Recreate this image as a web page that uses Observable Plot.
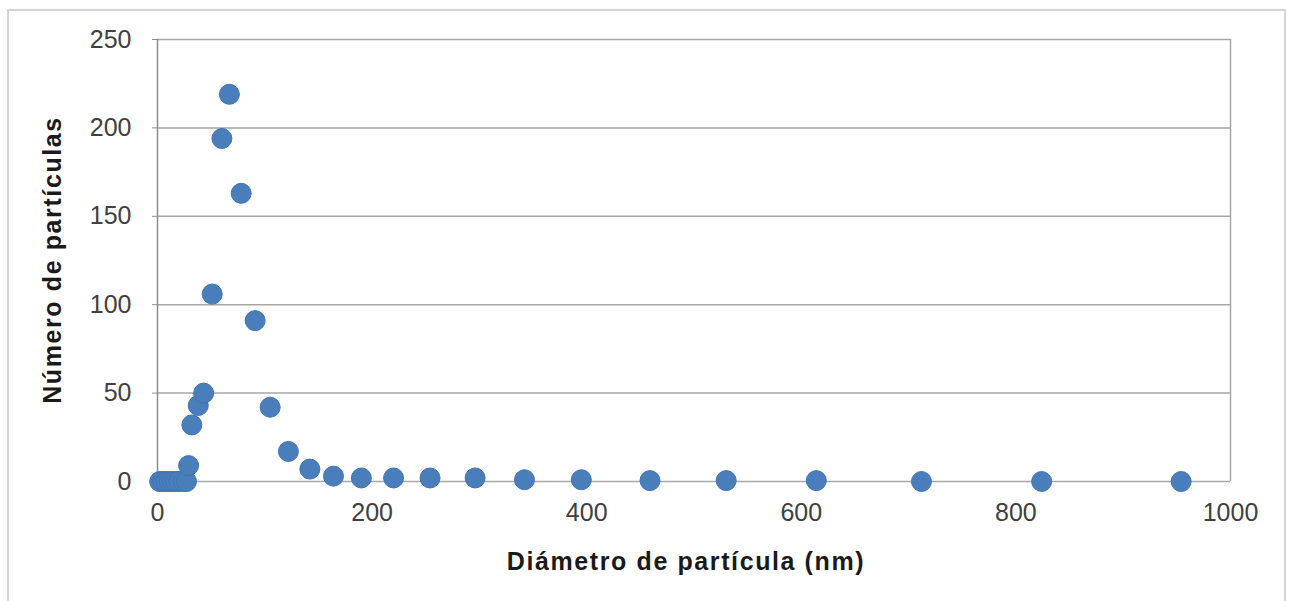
<!DOCTYPE html>
<html>
<head>
<meta charset="utf-8">
<script src="https://cdn.jsdelivr.net/npm/d3@7"></script>
<script src="https://cdn.jsdelivr.net/npm/@observablehq/plot@0.6"></script>
<style>
  html, body { margin: 0; padding: 0; background: #fff; }
  #wrap { position: relative; width: 1293px; height: 601px; overflow: hidden; }
  #border { position: absolute; left: 7px; top: 9px; width: 1279px; height: 600px; border: 2px solid #d4d4d4; box-sizing: border-box; }
</style>
</head>
<body>
<div id="wrap"><div id="border"></div></div>
<script>
const diameters = [2, 5, 8, 11, 14, 17, 20, 24, 27, 29, 32, 38, 43, 51, 60, 67, 78, 91, 105, 122, 142, 164, 190, 220, 254, 296, 342, 395, 459, 530, 614, 712, 824, 954];
const counts    = [0, 0, 0, 0, 0, 0, 0, 0, 0, 9, 32, 43, 50, 106, 194, 219, 163, 91, 42, 17, 7, 3, 2, 2, 2, 2, 1, 1, 0.5, 0.5, 0.5, 0, 0, 0];
const xTicks = [0, 200, 400, 600, 800, 1000];
const yTicks = [0, 50, 100, 150, 200, 250];

const data = diameters.map((d, i) => ({d, n: counts[i]}));

const chart = Plot.plot({
  width: 1293,
  height: 601,
  marginLeft: 157,
  marginRight: 63,
  marginTop: 39,
  marginBottom: 120,
  style: {fontFamily: "Liberation Sans, Arial, sans-serif", fontSize: "25px", color: "#404040", background: "transparent"},
  x: {domain: [0, 1000], ticks: xTicks, label: null},
  y: {domain: [0, 250], ticks: yTicks, label: null},
  marks: [
    Plot.ruleY(yTicks, {stroke: "#a6a6a6", strokeWidth: 1.5}),
    Plot.ruleX([1000], {stroke: "#a6a6a6", strokeWidth: 1.5}),
    Plot.ruleX([0], {stroke: "#8c8c8c", strokeWidth: 1.5}),
    Plot.axisY({ticks: yTicks, tickSize: 5, tickPadding: 21, stroke: "#8c8c8c", fill: "#404040", label: null, tickFormat: d => String(d)}),
    Plot.axisX({ticks: xTicks, tickSize: 0, tickPadding: 22, fill: "#404040", label: null, tickFormat: d => String(d)}),
    Plot.dot(data, {x: "d", y: "n", r: 10, fill: "#4a7ebb", stroke: "#3f74b3", strokeWidth: 1})
  ]
});
const wrap = document.getElementById("wrap");
chart.style.position = "absolute";
chart.style.left = "0px";
chart.style.top = "0px";
wrap.appendChild(chart);

// axis titles
const svg = d3.select(chart);
svg.append("text")
  .attr("x", 686).attr("y", 570)
  .attr("text-anchor", "middle")
  .attr("font-family", "Liberation Sans, Arial, sans-serif")
  .attr("font-size", 25).attr("font-weight", "bold").attr("fill", "#1a1a1a")
  .attr("letter-spacing", "1.6px")
  .text("Diámetro de partícula (nm)");
svg.append("text")
  .attr("transform", "translate(61,260) rotate(-90)")
  .attr("text-anchor", "middle")
  .attr("font-family", "Liberation Sans, Arial, sans-serif")
  .attr("font-size", 25).attr("font-weight", "bold").attr("fill", "#1a1a1a")
  .attr("letter-spacing", "1.6px")
  .text("Número de partículas");
</script>
</body>
</html>
